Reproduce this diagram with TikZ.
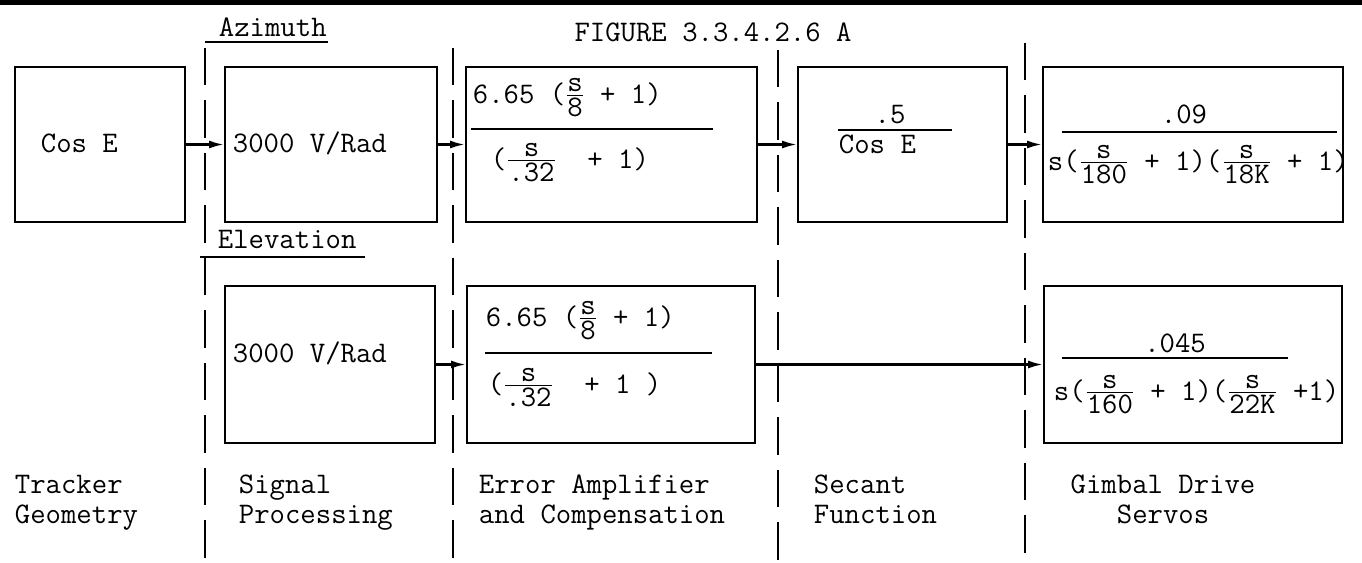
\documentclass[tikz,border=0pt]{standalone}
\usepackage{amsmath}
\usepackage{fontspec}
\usetikzlibrary{arrows.meta,positioning}
\newcommand{\fr}[2]{\ensuremath{\genfrac{}{}{0.9pt}{1}{\mbox{#1}}{\mbox{#2}}}}

\begin{document}
\begin{tikzpicture}[x=0.02cm, y=-0.02cm, line width=1.1pt,
    font=\ttfamily\fontsize{17}{17}\selectfont,
    boxsize/.style 2 args={minimum width=#1*0.02cm, minimum height=#2*0.02cm},
    blockbox/.style={draw, line width=1.1pt, inner sep=0pt},
    divline/.style={line width=1.2pt, dash pattern=on 0.75cm off 0.3cm},
    sigarrow/.style={-{Latex[length=0.3cm,width=0.16cm]}, line width=1.3pt},
    txt/.style={inner sep=0pt, anchor=base west},
    colcap/.style={inner sep=0pt, anchor=north west, align=left}]
    \useasboundingbox (0,0) rectangle (1362,562);
    \fill (0,0) rectangle (1362,5);

    % column dividers
    \foreach \xd/\ys in {205/48, 453/48, 778/50, 1025/43}
        \draw[divline] (\xd,\ys) -- (\xd,562);

    % headings
    \node[txt] (azhead) at (218,36) {Azimuth};
    \draw (205,42) -- (328,42);
    \node[inner sep=0pt, anchor=base] (title) at (713,41) {FIGURE 3.3.4.2.6 A};
    \node[txt] (elhead) at (217,248) {Elevation};
    \draw (200,257) -- (365,257);

    % azimuth row
    \node[blockbox, boxsize={170}{155}] (geo) at (100,144.5) {};
    \node[blockbox, boxsize={212}{155}] (azsig) at (331,144.5) {};
    \node[blockbox, boxsize={291}{155}] (azerr) at (611.5,144.5) {};
    \node[blockbox, boxsize={209}{155}] (sec) at (902.5,144.5) {};
    \node[blockbox, boxsize={300}{155}] (azgim) at (1193,144.5) {};

    \node[txt] (geo-t) at (40,152) {Cos E};
    \node[txt] (azsig-t) at (232,152) {3000 V/Rad};
    \node[txt] (azerr-n) at (472,103) {6.65 (\fr{s}{8} + 1)};
    \draw (471,129) -- (713,129);
    \node[txt] (azerr-d) at (490,168) {(\fr{s}{.32}\ \ + 1)};
    \node[inner sep=0pt, anchor=base] (sec-n) at (890,123) {.5};
    \draw (838,130) -- (952,130);
    \node[txt] (sec-d) at (838,153) {Cos E};
    \node[inner sep=0pt, anchor=base] (azgim-n) at (1184,123) {.09};
    \draw (1062,132) -- (1337,132);
    \node[txt] (azgim-d) at (1047,170) {s(\fr{s}{180} + 1)(\fr{s}{18K} + 1)};

    % elevation row
    \node[blockbox, boxsize={210}{157}] (elsig) at (330,364.5) {};
    \node[blockbox, boxsize={288}{157}] (elerr) at (611,364.5) {};
    \node[blockbox, boxsize={298}{157}] (elgim) at (1193,364.5) {};

    \node[txt] (elsig-t) at (232,362) {3000 V/Rad};
    \node[txt] (elerr-n) at (485,326) {6.65 (\fr{s}{8} + 1)};
    \draw (485,353) -- (712,353);
    \node[txt] (elerr-d) at (487,393) {(\fr{s}{.32}\ \ + 1 )};
    \node[inner sep=0pt, anchor=base] (elgim-n) at (1175,352) {.045};
    \draw (1062,358) -- (1288,358);
    \node[txt] (elgim-d) at (1053,400) {s(\fr{s}{160} + 1)(\fr{s}{22K} +1)};

    % signal flow
    \draw[sigarrow] (geo.east) -- (azsig.west);
    \draw[sigarrow] (azsig.east) -- (azerr.west);
    \draw[sigarrow] (azerr.east) -- (sec.west);
    \draw[sigarrow] (sec.east) -- (azgim.west);
    \draw[sigarrow] (elsig.east) -- (elerr.west);
    \draw[sigarrow] (elerr.east) -- (elgim.west);

    % column captions
    \node[colcap] (cap1) at (14,472) {\strut Tracker\\Geometry};
    \node[colcap] (cap2) at (238,472) {\strut Signal\\Processing};
    \node[colcap] (cap3) at (478,472) {\strut Error Amplifier\\and Compensation};
    \node[colcap] (cap4) at (813,472) {\strut Secant\\Function};
    \node[colcap, anchor=north, align=center] (cap5) at (1163,472) {\strut Gimbal Drive\\Servos};
\end{tikzpicture}
\end{document}
